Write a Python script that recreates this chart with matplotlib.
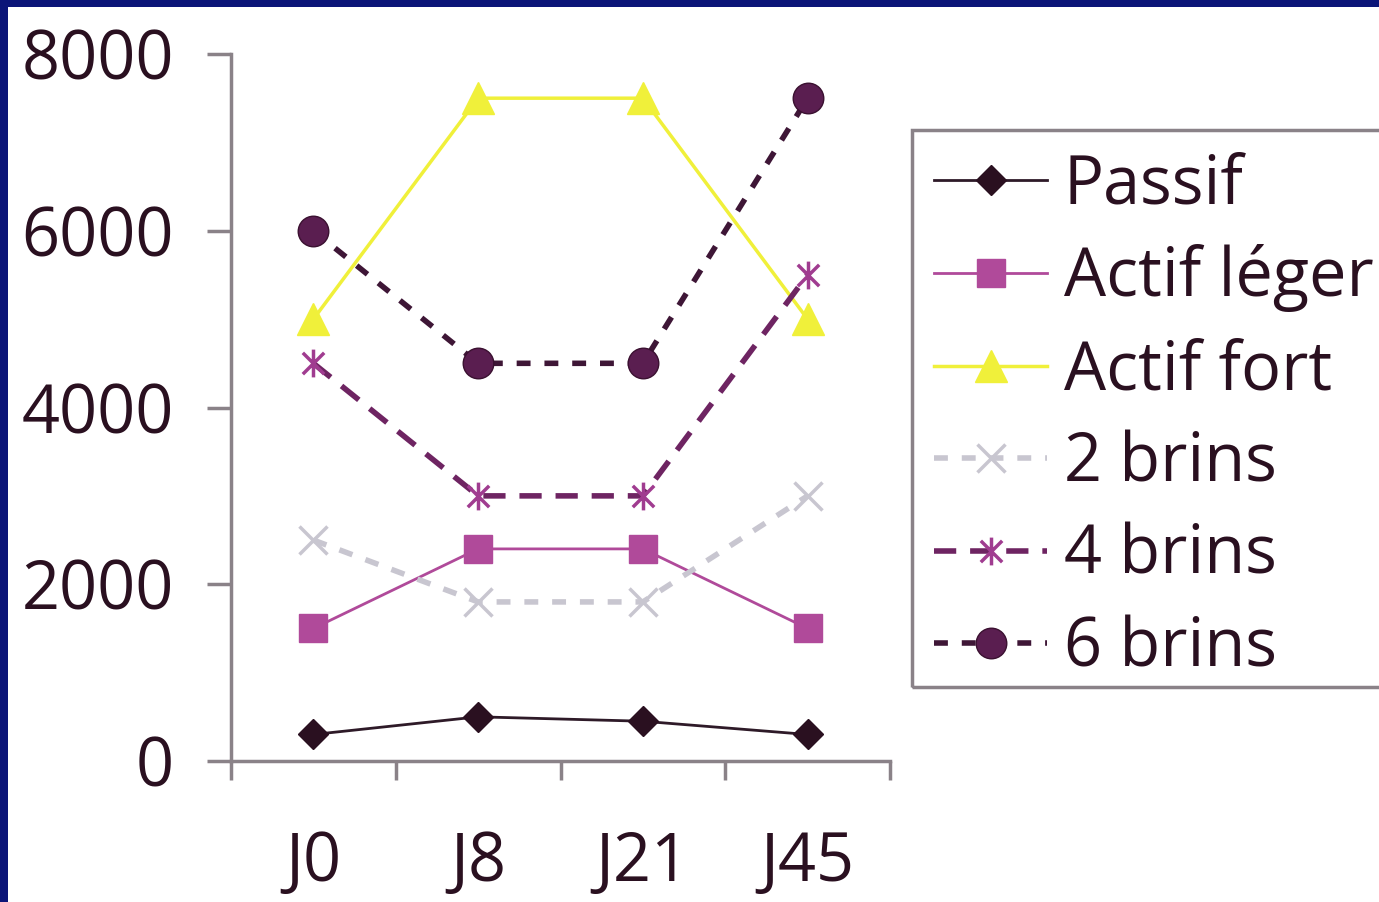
import matplotlib.pyplot as plt
from matplotlib.path import Path
from matplotlib.patches import Rectangle
from matplotlib.ticker import FixedLocator

plt.rcParams['font.family'] = ['Open Sans', 'DejaVu Sans']

days = ["J0", "J8", "J21", "J45"]
passif = [300, 500, 450, 300]
actif_leger = [1500, 2400, 2400, 1500]
actif_fort = [5000, 7500, 7500, 5000]
brins2 = [2500, 1800, 1800, 3000]
brins4 = [4500, 3000, 3000, 5500]
brins6 = [6000, 4500, 4500, 7500]

W, H = 1379, 902
fig = plt.figure(figsize=(W / 100, H / 100), dpi=100)
fig.patch.set_facecolor("#0b1578")
fig.patches.append(Rectangle((8 / W, 0), 1, (H - 7) / H, transform=fig.transFigure,
                             facecolor="white", edgecolor="none", zorder=-10))

ax = fig.add_axes([231 / W, (H - 761) / H, (890 - 231) / W, (761 - 54) / H])
ax.set_facecolor("none")

# star marker: x plus vertical bar
star = Path([(-1, -1), (1, 1), (-1, 1), (1, -1), (0, -1.3), (0, 1.3)],
            [Path.MOVETO, Path.LINETO, Path.MOVETO, Path.LINETO, Path.MOVETO, Path.LINETO])

x = range(len(days))
ax.plot(x, passif, color="#2e1a28", lw=2, marker="D", ms=15,
        mfc="#2a1020", mec="#2a1020", label="Passif")
ax.plot(x, actif_leger, color="#b04a9a", lw=2, marker="s", ms=20,
        mfc="#b04a9a", mec="#b04a9a", label="Actif léger")
ax.plot(x, actif_fort, color="#f0f03a", lw=2.5, marker="^", ms=23,
        mfc="#f0f03a", mec="#f0f03a", label="Actif fort")
ax.plot(x, brins2, color="#c8c6d0", lw=4, ls=(0, (2.5, 2.5)), marker="x", ms=20,
        mew=2.5, mec="#c8c6d0", label="2 brins")
ax.plot(x, brins4, color="#6e2462", lw=4, ls=(0, (4, 2.5)), marker=star, ms=20,
        mew=2.5, mec="#a03c90", label="4 brins")
ax.plot(x, brins6, color="#3e1636", lw=4, ls=(0, (2.5, 2.5)), marker="o", ms=22,
        mfc="#5a1e50", mec="#3a1030", label="6 brins")

ax.set_xlim(-0.5, 3.5)
ax.set_ylim(0, 8000)
ax.set_yticks([0, 2000, 4000, 6000, 8000])
ax.set_xticks(list(x))
ax.set_xticklabels(days)
ax.xaxis.set_minor_locator(FixedLocator([-0.5, 0.5, 1.5, 2.5, 3.5]))

spine_c = "#8a8288"
for s in ["top", "right"]:
    ax.spines[s].set_visible(False)
for s in ["left", "bottom"]:
    ax.spines[s].set_color(spine_c)
    ax.spines[s].set_linewidth(2.5)

ax.tick_params(axis="y", length=17, width=2.5, color=spine_c, pad=24,
               labelsize=48, labelcolor="#2a1020")
ax.tick_params(axis="x", which="major", length=0, pad=49,
               labelsize=48, labelcolor="#2a1020")
ax.tick_params(axis="x", which="minor", length=14, width=2.5, color=spine_c)

# legend without its own frame; box drawn separately
leg = ax.legend(loc="upper left", bbox_to_anchor=(912 / W, (H - 130) / H),
                bbox_transform=fig.transFigure, fontsize=48, frameon=False,
                handlelength=1.7, handletextpad=0.25, labelspacing=0.375,
                borderaxespad=0, borderpad=0.33)
for t in leg.get_texts():
    t.set_color("#2a1020")
fig.patches.append(Rectangle((912 / W, (H - 687) / H), 600 / W, (687 - 130) / H,
                             transform=fig.transFigure, facecolor="none",
                             edgecolor=spine_c, linewidth=2.5, zorder=5))

fig.savefig("out.png", dpi=100, facecolor=fig.get_facecolor())
